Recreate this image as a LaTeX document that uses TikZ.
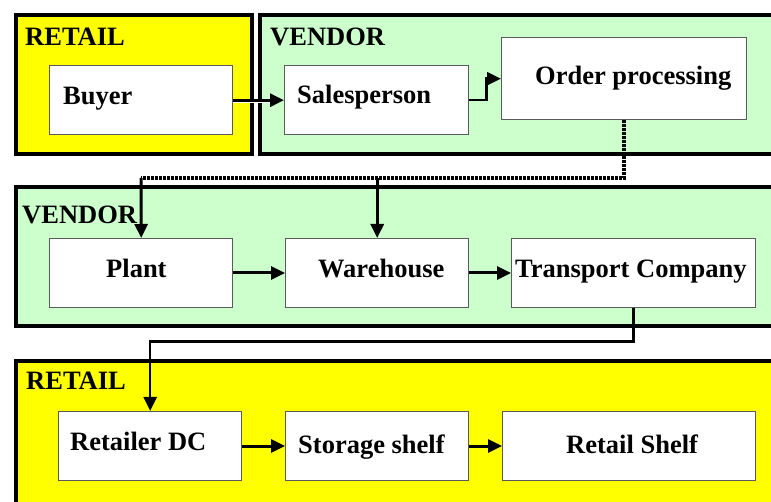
\documentclass[tikz,border=0pt]{standalone}
\usepackage{fontspec}
\setmainfont{Liberation Serif}
\usetikzlibrary{arrows.meta}
\definecolor{retailY}{RGB}{255,255,0}
\definecolor{vendorG}{RGB}{204,255,204}
\definecolor{boxline}{RGB}{90,90,90}
\begin{document}
\begin{tikzpicture}[x=1pt,y=-1pt,
  grp/.style={draw=black, line width=3.8pt, anchor=north west, inner sep=0pt},
  box/.style={draw=boxline, fill=white, line width=1.4pt, anchor=north west, inner sep=0pt},
  txt/.style={font=\fontsize{26.5}{30}\selectfont\bfseries, anchor=base west, inner sep=0pt},
  arr/.style={draw=black, line width=3pt, -{Triangle[length=14pt,width=13pt]}},
  dotline/.style={draw=black, line width=3.5pt, dash pattern=on 3pt off 1pt}]
\useasboundingbox (0,0) rectangle (771,502);
\clip (0,0) rectangle (771,502);
\fill[white] (0,0) rectangle (771,502);

% group frames
\node[grp, fill=retailY, minimum width=236, minimum height=139] (gRetailTop) at (14,13) {};
\node[grp, fill=vendorG, minimum width=530, minimum height=139] (gVendorTop) at (258,13) {};
\node[grp, fill=vendorG, minimum width=775, minimum height=139] (gVendorMid) at (14,185) {};
\node[grp, fill=retailY, minimum width=775, minimum height=160] (gRetailBot) at (14,359) {};

\node[txt] (lRetailTop) at (25,46) {RETAIL};
\node[txt] (lVendorTop) at (270,46) {VENDOR};
\node[txt] (lVendorMid) at (22,224) {VENDOR};
\node[txt] (lRetailBot) at (26,389) {RETAIL};

% boxes
\node[box, minimum width=183, minimum height=69] (buyer) at (49,65) {};
\node[box, minimum width=184, minimum height=69] (sales) at (284,65) {};
\node[box, minimum width=245, minimum height=82] (order) at (501,37) {};
\node[box, minimum width=183, minimum height=69] (plant) at (49,238) {};
\node[box, minimum width=183, minimum height=69] (warehouse) at (285,238) {};
\node[box, minimum width=244, minimum height=69] (transport) at (511,238) {};
\node[box, minimum width=183, minimum height=69] (dc) at (58,411) {};
\node[box, minimum width=183, minimum height=69] (storage) at (285,411) {};
\node[box, minimum width=253, minimum height=69] (rshelf) at (502,411) {};

% texts
\node[txt] (tBuyer) at (63,105) {Buyer};
\node[txt] (tSales) at (297,104) {Salesperson};
\node[txt] (tOrder) at (535,85) {Order processing};
\node[txt] (tPlant) at (106,278) {Plant};
\node[txt] (tWare) at (318,278) {Warehouse};
\node[txt] (tTrans) at (515,278) {Transport Company};
\node[txt] (tDC) at (70,450) {Retailer DC};
\node[txt] (tStorage) at (298,453) {Storage shelf};
\node[txt] (tShelf) at (566,453) {Retail Shelf};

% connectors
\draw[arr] (buyer.east) -- (sales.west);
\draw[white, line width=0.8pt] ([yshift=-2pt]buyer.east) -- ([yshift=-2pt,xshift=-14pt]sales.west);
\draw[arr, line width=2.5pt] (sales.east) -- ++(17,0) |- (order.west);

\coordinate (split) at (141,178);
\draw[dotline] (order.south) |- (split);
\draw[arr] (split) -- (plant.north);
\draw[arr] (warehouse.north |- split) -- (warehouse.north);

\draw[arr] (plant.east |- 0,273) -- (warehouse.west |- 0,273);
\draw[arr] (warehouse.east |- 0,273) -- (transport.west |- 0,273);

\draw[arr, line width=2.5pt] (transport.south) -- ++(0,33) -| (dc.north);

\draw[arr] (dc.east |- 0,446) -- (storage.west |- 0,446);
\draw[arr] (storage.east |- 0,446) -- (rshelf.west |- 0,446);
\end{tikzpicture}
\end{document}
